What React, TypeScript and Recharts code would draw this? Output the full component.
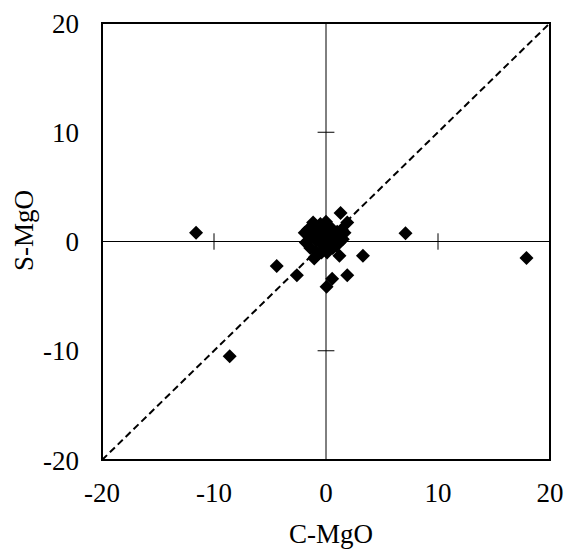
import { ScatterChart, Scatter, XAxis, YAxis, ReferenceLine, ReferenceArea } from 'recharts'

// C-MgO vs S-MgO deviations
const cMgO = [
  -11.6, 7.1, 17.9, -8.6, -4.4, -2.6, 3.3, 1.9, 0.55, 0.05, -1.05,
  1.3, 1.9, 1.4, 1.65, 1.5, 1.2, 1.2, -1.0, 0.1, -1.15, 0.0, -0.5, 0.5, -1.9, -1.6, -1.8, -1.4,
  -0.5, 0.3, 0.8, -0.3, 0.6, -0.9, -0.9, 0.2, 1.0, -0.2, 0.9, -0.4, -0.8, -1.3, 0.4, -0.1, 1.3,
]
const sMgO = [
  0.8, 0.75, -1.5, -10.5, -2.25, -3.1, -1.3, -3.1, -3.4, -4.15, -1.55,
  2.6, 1.75, 1.1, 0.8, 0.2, -0.1, -1.3, -1.45, -1.0, 1.75, 1.8, 1.6, 1.2, 0.8, 1.1, -0.1, -0.6,
  0.5, 0.6, 0.2, -0.3, -0.6, 0.1, -0.9, 1.2, 0.9, 0.0, -0.4, -1.0, 1.0, 0.4, -0.2, 1.0, 0.6,
]
const axisTicks = [-20, -10, 0, 10, 20]
const innerTicks = [-10, 10]

const points = cMgO.map((x, i) => ({ x, y: sMgO[i] }))
const FONT = '"Liberation Serif", "Times New Roman", serif'

const Diamond = (props: any) => {
  const { cx, cy } = props
  const r = 7
  return <path d={`M${cx},${cy - r}L${cx + r},${cy}L${cx},${cy + r}L${cx - r},${cy}Z`} fill="#000" />
}

export default function App() {
  const tick = { fontSize: 27, fill: '#000', fontFamily: FONT }
  return (
    <div style={{ position: 'absolute', left: 0, top: 0 }}>
      <ScatterChart width={566} height={550} margin={{ top: 23, right: 16, bottom: 0, left: 0 }}>
        <XAxis
          type="number"
          dataKey="x"
          domain={[-20, 20]}
          ticks={axisTicks}
          allowDataOverflow
          axisLine={false}
          tickLine={false}
          tickMargin={17}
          height={90}
          tick={tick}
          label={{
            content: (p: any) => {
              const vb = p.viewBox
              return (
                <text x={vb.x + vb.width / 2 + 5} y={543} textAnchor="middle" fontSize={27} fontFamily={FONT} fill="#000">
                  C-MgO
                </text>
              )
            },
          }}
        />
        <YAxis
          type="number"
          dataKey="y"
          domain={[-20, 20]}
          ticks={axisTicks}
          allowDataOverflow
          axisLine={false}
          tickLine={false}
          tickMargin={17}
          width={102}
          tick={tick}
          label={{
            content: (p: any) => {
              const vb = p.viewBox
              const cy = vb.y + vb.height / 2 - 11
              return (
                <text
                  x={33}
                  y={cy}
                  transform={`rotate(-90 33 ${cy})`}
                  textAnchor="middle"
                  fontSize={27}
                  fontFamily={FONT}
                  fill="#000"
                >
                  S-MgO
                </text>
              )
            },
          }}
        />
        <ReferenceLine x={0} stroke="#000" strokeWidth={1} />
        <ReferenceLine y={0} stroke="#000" strokeWidth={1} />
        {innerTicks.map((t) => (
          <ReferenceLine key={'xt' + t} segment={[{ x: t, y: -0.75 }, { x: t, y: 0.75 }]} stroke="#000" strokeWidth={1} />
        ))}
        {innerTicks.map((t) => (
          <ReferenceLine key={'yt' + t} segment={[{ x: -0.75, y: t }, { x: 0.75, y: t }]} stroke="#000" strokeWidth={1} />
        ))}
        <ReferenceLine
          segment={[{ x: -20, y: -20 }, { x: 20, y: 20 }]}
          stroke="#000"
          strokeWidth={2}
          strokeDasharray="7 4"
        />
        <ReferenceArea x1={-20} x2={20} y1={-20} y2={20} fill="none" fillOpacity={0} stroke="#000" strokeWidth={2} />
        <Scatter data={points} shape={<Diamond />} isAnimationActive={false} />
      </ScatterChart>
    </div>
  )
}
